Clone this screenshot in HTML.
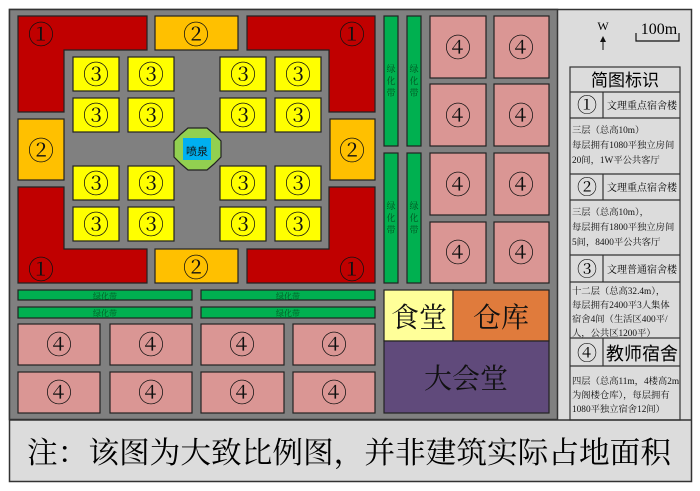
<!DOCTYPE html>
<html><head><meta charset="utf-8"><style>
html,body{margin:0;padding:0;background:#fff;}
svg{display:block;}
text{font-family:"Liberation Serif","Noto Serif CJK SC",serif;}
.s{font-family:"Liberation Sans","Noto Sans CJK SC",sans-serif;}
</style></head><body>
<svg width="700" height="491" viewBox="0 0 700 491" xmlns="http://www.w3.org/2000/svg">
<rect x="0" y="0" width="700" height="491" fill="#fff"/>
<rect x="9.5" y="9.5" width="682" height="472" fill="#dcdcdc" stroke="#333" stroke-width="1.5"/>
<rect x="9.5" y="9.5" width="548" height="410" fill="#808080" stroke="#333" stroke-width="1.5"/>
<line x1="9" y1="420" x2="692" y2="420" stroke="#333" stroke-width="1.5"/>
<g stroke="#222" stroke-width="1.2">
<polygon points="18,16 147,16 147,50 64,50 64,112 18,112" fill="#c00000"/>
<polygon points="247,16 375,16 375,112 329,112 329,50 247,50" fill="#c00000"/>
<polygon points="18,187 64,187 64,249 147,249 147,283 18,283" fill="#c00000"/>
<polygon points="329,187 375,187 375,283 247,283 247,249 329,249" fill="#c00000"/>
<rect x="155" y="16" width="83" height="34" fill="#ffc000"/>
<rect x="155" y="249" width="83" height="34" fill="#ffc000"/>
<rect x="18" y="119" width="46" height="61" fill="#ffc000"/>
<rect x="330" y="119" width="45" height="61" fill="#ffc000"/>
<g fill="#ffff00">
<rect x="73" y="57" width="46" height="34"/><rect x="128" y="57" width="46" height="34"/>
<rect x="220" y="57" width="46" height="34"/><rect x="275" y="57" width="46" height="34"/>
<rect x="73" y="98" width="46" height="34"/><rect x="128" y="98" width="46" height="34"/>
<rect x="220" y="98" width="46" height="34"/><rect x="275" y="98" width="46" height="34"/>
<rect x="73" y="166" width="46" height="34"/><rect x="128" y="166" width="46" height="34"/>
<rect x="220" y="166" width="46" height="34"/><rect x="275" y="166" width="46" height="34"/>
<rect x="73" y="207" width="46" height="34"/><rect x="128" y="207" width="46" height="34"/>
<rect x="220" y="207" width="46" height="34"/><rect x="275" y="207" width="46" height="34"/>
</g>
<polygon points="188,128 207,128 214,134 221,141 221,157 214,164 207,170 188,170 181,164 174,157 174,141 181,134" fill="#92d050"/>
<rect x="183" y="138" width="28" height="22" fill="#00b0f0" stroke="none"/>
<g fill="#00b050">
<rect x="384" y="16" width="14" height="130"/><rect x="407" y="16" width="14" height="130"/>
<rect x="384" y="153" width="14" height="130"/><rect x="407" y="153" width="14" height="130"/>
<rect x="18" y="290" width="174" height="10"/><rect x="201" y="290" width="174" height="10"/>
<rect x="18" y="307" width="174" height="11"/><rect x="201" y="307" width="174" height="11"/>
</g>
<g fill="#da9694">
<rect x="430" y="16" width="56" height="62"/><rect x="494" y="16" width="55" height="62"/>
<rect x="430" y="84" width="56" height="62"/><rect x="494" y="84" width="55" height="62"/>
<rect x="430" y="153" width="56" height="62"/><rect x="494" y="153" width="55" height="62"/>
<rect x="430" y="222" width="56" height="61"/><rect x="494" y="222" width="55" height="61"/>
<rect x="18" y="324" width="82" height="41"/><rect x="110" y="324" width="82" height="41"/>
<rect x="201" y="324" width="83" height="41"/><rect x="293" y="324" width="82" height="41"/>
<rect x="18" y="372" width="82" height="41"/><rect x="110" y="372" width="82" height="41"/>
<rect x="201" y="372" width="83" height="41"/><rect x="293" y="372" width="82" height="41"/>
</g>
<rect x="384" y="290" width="69" height="51" fill="#ffff99"/>
<rect x="453" y="290" width="96" height="51" fill="#e07b3c"/>
<rect x="384" y="341" width="165" height="72" fill="#604a7b"/>
</g>
<g font-size="26" text-anchor="middle" fill="#111">
<text x="41" y="44">①</text><text x="352" y="44">①</text>
<text x="41" y="279">①</text><text x="352" y="279">①</text>
<text x="196" y="44">②</text><text x="196" y="277">②</text>
<text x="41" y="160">②</text><text x="352" y="160">②</text>
<text x="96" y="84">③</text><text x="151" y="84">③</text><text x="243" y="84">③</text><text x="298" y="84">③</text>
<text x="96" y="125">③</text><text x="151" y="125">③</text><text x="243" y="125">③</text><text x="298" y="125">③</text>
<text x="96" y="193">③</text><text x="151" y="193">③</text><text x="243" y="193">③</text><text x="298" y="193">③</text>
<text x="96" y="234">③</text><text x="151" y="234">③</text><text x="243" y="234">③</text><text x="298" y="234">③</text>
<text x="458" y="57">④</text><text x="521" y="57">④</text>
<text x="458" y="125">④</text><text x="521" y="125">④</text>
<text x="458" y="194">④</text><text x="521" y="194">④</text>
<text x="458" y="262">④</text><text x="521" y="262">④</text>
<text x="59" y="354">④</text><text x="151" y="354">④</text><text x="242" y="354">④</text><text x="334" y="354">④</text>
<text x="59" y="402">④</text><text x="151" y="402">④</text><text x="242" y="402">④</text><text x="334" y="402">④</text>
</g>
<text x="197" y="155" font-size="11" text-anchor="middle" class="s" fill="#111">喷泉</text>
<g font-size="9" fill="#005020" text-anchor="middle" class="s">
<text x="391" y="72">绿</text><text x="391" y="84">化</text><text x="391" y="96">带</text>
<text x="414" y="72">绿</text><text x="414" y="84">化</text><text x="414" y="96">带</text>
<text x="391" y="209">绿</text><text x="391" y="221">化</text><text x="391" y="233">带</text>
<text x="414" y="209">绿</text><text x="414" y="221">化</text><text x="414" y="233">带</text>
<text x="105" y="299" font-size="8">绿化带</text><text x="288" y="299" font-size="8">绿化带</text>
<text x="105" y="316" font-size="8">绿化带</text><text x="288" y="316" font-size="8">绿化带</text>
</g>
<g font-size="28" text-anchor="middle" fill="#111">
<text x="419" y="327">食堂</text><text x="501" y="327">仓库</text>
<text x="466" y="388">大会堂</text>
</g>
<text x="603" y="30" font-size="12" text-anchor="middle">W</text>
<line x1="603" y1="38" x2="603" y2="50" stroke="#111" stroke-width="1"/>
<polygon points="600,42 606,42 603,36" fill="#111"/>
<text x="659" y="34" font-size="16" text-anchor="middle">100m</text>
<polyline points="636,33 636,41 679,41 679,33" fill="none" stroke="#111" stroke-width="1.2"/>
<g stroke="#333" stroke-width="1.2" fill="none">
<rect x="570" y="67" width="110" height="353"/>
<line x1="570" y1="92" x2="680" y2="92"/>
<line x1="570" y1="118" x2="680" y2="118"/><line x1="603" y1="92" x2="603" y2="118"/>
<line x1="570" y1="174" x2="680" y2="174"/>
<line x1="570" y1="200" x2="680" y2="200"/><line x1="603" y1="174" x2="603" y2="200"/>
<line x1="570" y1="255" x2="680" y2="255"/>
<line x1="570" y1="282" x2="680" y2="282"/><line x1="603" y1="255" x2="603" y2="282"/>
<line x1="570" y1="338" x2="680" y2="338"/>
<line x1="570" y1="366" x2="680" y2="366"/><line x1="603" y1="338" x2="603" y2="366"/>
</g>
<text x="625" y="86" font-size="17" text-anchor="middle" class="s">简图标识</text>
<g font-size="20" text-anchor="middle"><text x="587" y="112">①</text><text x="587" y="194">②</text><text x="587" y="276">③</text><text x="587" y="360">④</text></g>
<g font-size="10" text-anchor="middle" class="s"><text x="642" y="109">文理重点宿舍楼</text><text x="642" y="191">文理重点宿舍楼</text><text x="642" y="273">文理普通宿舍楼</text></g>
<text x="642" y="360" font-size="18" text-anchor="middle" class="s">教师宿舍</text>
<g font-size="9.3" class="s" fill="#111">
<text x="572" y="133">三层（总高10m）</text><text x="572" y="148">每层拥有1080平独立房间</text><text x="572" y="163">20间，1W平公共客厅</text>
<text x="572" y="215">三层（总高10m），</text><text x="572" y="230">每层拥有1800平独立房间</text><text x="572" y="245">5间，8400平公共客厅</text>
<text x="572" y="294">十二层（总高32.4m），</text><text x="572" y="308">每层拥有2400平3人集体</text><text x="572" y="322">宿舍4间（生活区400平/</text><text x="572" y="336">人，公共区1200平）</text>
<text x="572" y="384">四层（总高11m，4楼高2m</text><text x="572" y="398">为阁楼仓库），每层拥有</text><text x="572" y="412">1080平独立宿舍12间）</text>
</g>
<text x="349" y="463" font-size="30" text-anchor="middle" textLength="644" lengthAdjust="spacingAndGlyphs">注：该图为大致比例图，并非建筑实际占地面积</text>
</svg>
</body></html>
